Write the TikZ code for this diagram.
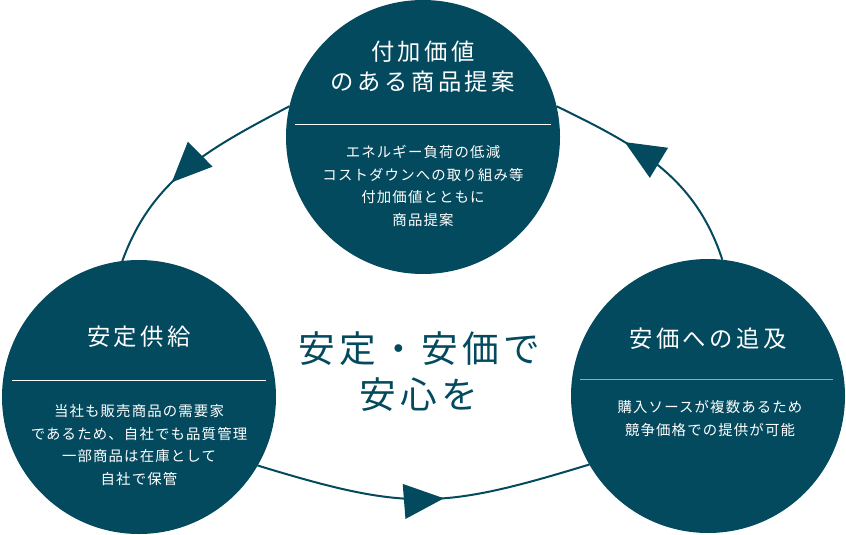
\documentclass[tikz,border=0pt]{standalone}
\usepackage{fontspec}
\usepackage{tikz}
\usetikzlibrary{arrows.meta,decorations.markings}
\newfontfamily\jptitle[LetterSpace=15]{Noto Sans CJK JP}
\newfontfamily\jpbody[LetterSpace=8]{Noto Sans CJK JP}
\newfontfamily\jpmain[LetterSpace=12]{Noto Sans CJK JP}
\definecolor{deepteal}{RGB}{4,74,94}
\tikzset{
  disc/.style={circle, fill=deepteal, inner sep=0pt, outer sep=0pt, minimum size=205.5pt},
  cycline/.style={draw=deepteal, line width=1.5pt, postaction={decorate},
    decoration={markings, mark=at position #1 with {\arrow{Triangle[length=30pt,width=26pt]}}}},
  titletext/.style={text=white, align=center, inner sep=0.75pt, font=\jptitle\fontsize{17.5}{22.5}\selectfont},
  bodytext/.style={text=white, align=center, inner sep=0.75pt, font=\jpbody\fontsize{10.8}{17}\selectfont},
  divider/.style={draw=white, line width=0.75pt},
}

\begin{document}
\begin{tikzpicture}[x=0.75pt,y=0.75pt,yscale=-1,xscale=1]
\useasboundingbox (0,0) rectangle (846,535); %set diagram size 846 x 535

%Shape: Circle [value]
\node [disc] (value) at (423,137) {};
%Shape: Circle [supply]
\node [disc] (supply) at (139,397) {};
%Shape: Circle [price]
\node [disc] (price) at (708,396) {};

%Curve Lines [value -> supply] (angles flipped by yscale=-1)
\draw [cycline=0.6] (value.167) to[out=152,in=290] (supply.97);
%Curve Lines [supply -> price]
\draw [cycline=0.56] (supply.-30) to[out=17,in=163,looseness=1.2] (price.210.6);
%Curve Lines [price -> value]
\draw [cycline=0.67] (price.84) to[out=252,in=26] (value.13);

%Straight Lines [dividers]
\draw [divider] (295,124) -- (551,124);
\draw [divider] (12,380) -- (266,380);
\draw [divider, draw=white!55!deepteal] (580,379) -- (833,379);

% Text Node
\node [titletext] (valueTitle) at (423,67) {付加価値\\のある商品提案};
% Text Node
\node [bodytext] (valueBody) at (423,186) {エネルギー負荷の低減\\コストダウンへの取り組み等\\付加価値とともに\\商品提案};
% Text Node
\node [titletext] (supplyTitle) at (139,337) {安定供給};
% Text Node
\node [bodytext] (supplyBody) at (139,445) {当社も販売商品の需要家\\であるため、自社でも品質管理\\一部商品は在庫として\\自社で保管};
% Text Node
\node [titletext] (priceTitle) at (708,339) {安価への追及};
% Text Node
\node [bodytext] (priceBody) at (710,418.5) {購入ソースが複数あるため\\競争価格での提供が可能};
% Text Node
\node [text=deepteal, align=center, inner sep=0.75pt, font=\jpmain\fontsize{27.5}{35}\selectfont] (motto) at (419,371.5) {安定・安価で\\安心を};

\end{tikzpicture}
\end{document}
